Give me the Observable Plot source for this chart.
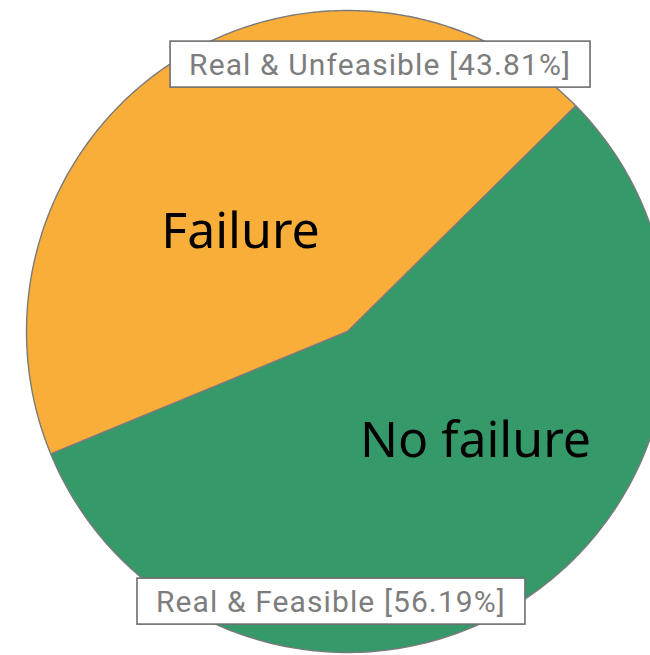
<!DOCTYPE html>
<html>
<head>
<meta charset="utf-8">
<script src="https://cdn.jsdelivr.net/npm/d3@7"></script>
<script src="https://cdn.jsdelivr.net/npm/@observablehq/plot@0.6"></script>
<style>
  html, body { margin: 0; padding: 0; background: #fff; }
  #chart svg { display: block; }
</style>
</head>
<body>
<div id="chart"></div>
<script>
// ---- data ----
const slices = ["No failure", "Failure"];
const values = [56.19, 43.81];
const boxLabels = ["Real & Feasible [56.19%]", "Real & Unfeasible [43.81%]"];
const colors = ["#35996A", "#F9AE3A"];

// ---- layout ----
const W = 650, H = 655;
const cx = 347, cy = 331, R = 321;
const startDeg = 45.3;

const arcs = d3.pie().sort(null)
  .startAngle(startDeg * Math.PI / 180)
  .endAngle(startDeg * Math.PI / 180 + 2 * Math.PI)(values);

const polys = [];
arcs.forEach((a, i) => {
  polys.push({name: slices[i], x: 0, y: 0});
  const n = 240;
  for (let k = 0; k <= n; k++) {
    const t = a.startAngle + (a.endAngle - a.startAngle) * k / n;
    polys.push({name: slices[i], x: Math.sin(t), y: Math.cos(t)});
  }
});

const boxes = arcs.map((a, i) => {
  const m = (a.startAngle + a.endAngle) / 2;
  const x = Math.sin(m), y = Math.cos(m);
  return {label: boxLabels[i], x, y, anchor: x < 0 ? "start" : "end"};
});

// inner label positions (in radius units relative to center)
const inner = [
  {name: slices[0], x: (475 - cx) / R, y: (cy - 440) / R},
  {name: slices[1], x: (240 - cx) / R, y: (cy - 231) / R}
];

const chart = Plot.plot({
  width: W, height: H,
  margin: 0,
  x: {domain: [-cx / R, (W - cx) / R], axis: null},
  y: {domain: [-(H - cy) / R, cy / R], axis: null},
  color: {domain: slices, range: colors},
  marks: [
    Plot.line(polys, {x: "x", y: "y", z: "name", fill: "name", stroke: "#7a7a7a",
      strokeWidth: 1.4, curve: "linear-closed"}),
    Plot.text(inner, {x: "x", y: "y", text: "name", fontSize: 50,
      fontFamily: "Noto Sans", fill: "#000", textAnchor: "middle"}),
    Plot.text(boxes.filter(d => d.anchor === "start"), {x: "x", y: "y", text: "label",
      textAnchor: "start", dx: 19, dy: 1, fontSize: 30, fontFamily: "Roboto", fill: "#7d7d7d"}),
    Plot.text(boxes.filter(d => d.anchor === "end"), {x: "x", y: "y", text: "label",
      textAnchor: "end", dx: -19, dy: 3, fontSize: 30, fontFamily: "Roboto", fill: "#7d7d7d"})
  ]
});

document.getElementById("chart").appendChild(chart);

// letter spacing for annotation labels, then white boxes with gray border behind them
d3.select(chart).selectAll("text").each(function() {
  const t = this.textContent;
  if (!boxLabels.includes(t)) return;
  this.setAttribute("letter-spacing", "1.1");
});
d3.select(chart).selectAll("text").each(function() {
  const t = this.textContent;
  if (!boxLabels.includes(t)) return;
  const bb = this.getBBox();
  const midY = bb.y + bb.height / 2;
  const anchorEnd = this.closest("g").getAttribute("text-anchor") === "end" ||
    this.getAttribute("text-anchor") === "end";
  const rect = document.createElementNS("http://www.w3.org/2000/svg", "rect");
  rect.setAttribute("x", bb.x - 19);
  rect.setAttribute("y", midY - 23);
  rect.setAttribute("width", bb.width + 38);
  rect.setAttribute("height", 46);
  rect.setAttribute("fill", "#fff");
  rect.setAttribute("stroke", "#6e6e6e");
  rect.setAttribute("stroke-width", 1.6);
  const tr = this.getAttribute("transform");
  if (tr) rect.setAttribute("transform", tr);
  this.parentNode.insertBefore(rect, this);
});
</script>
</body>
</html>
